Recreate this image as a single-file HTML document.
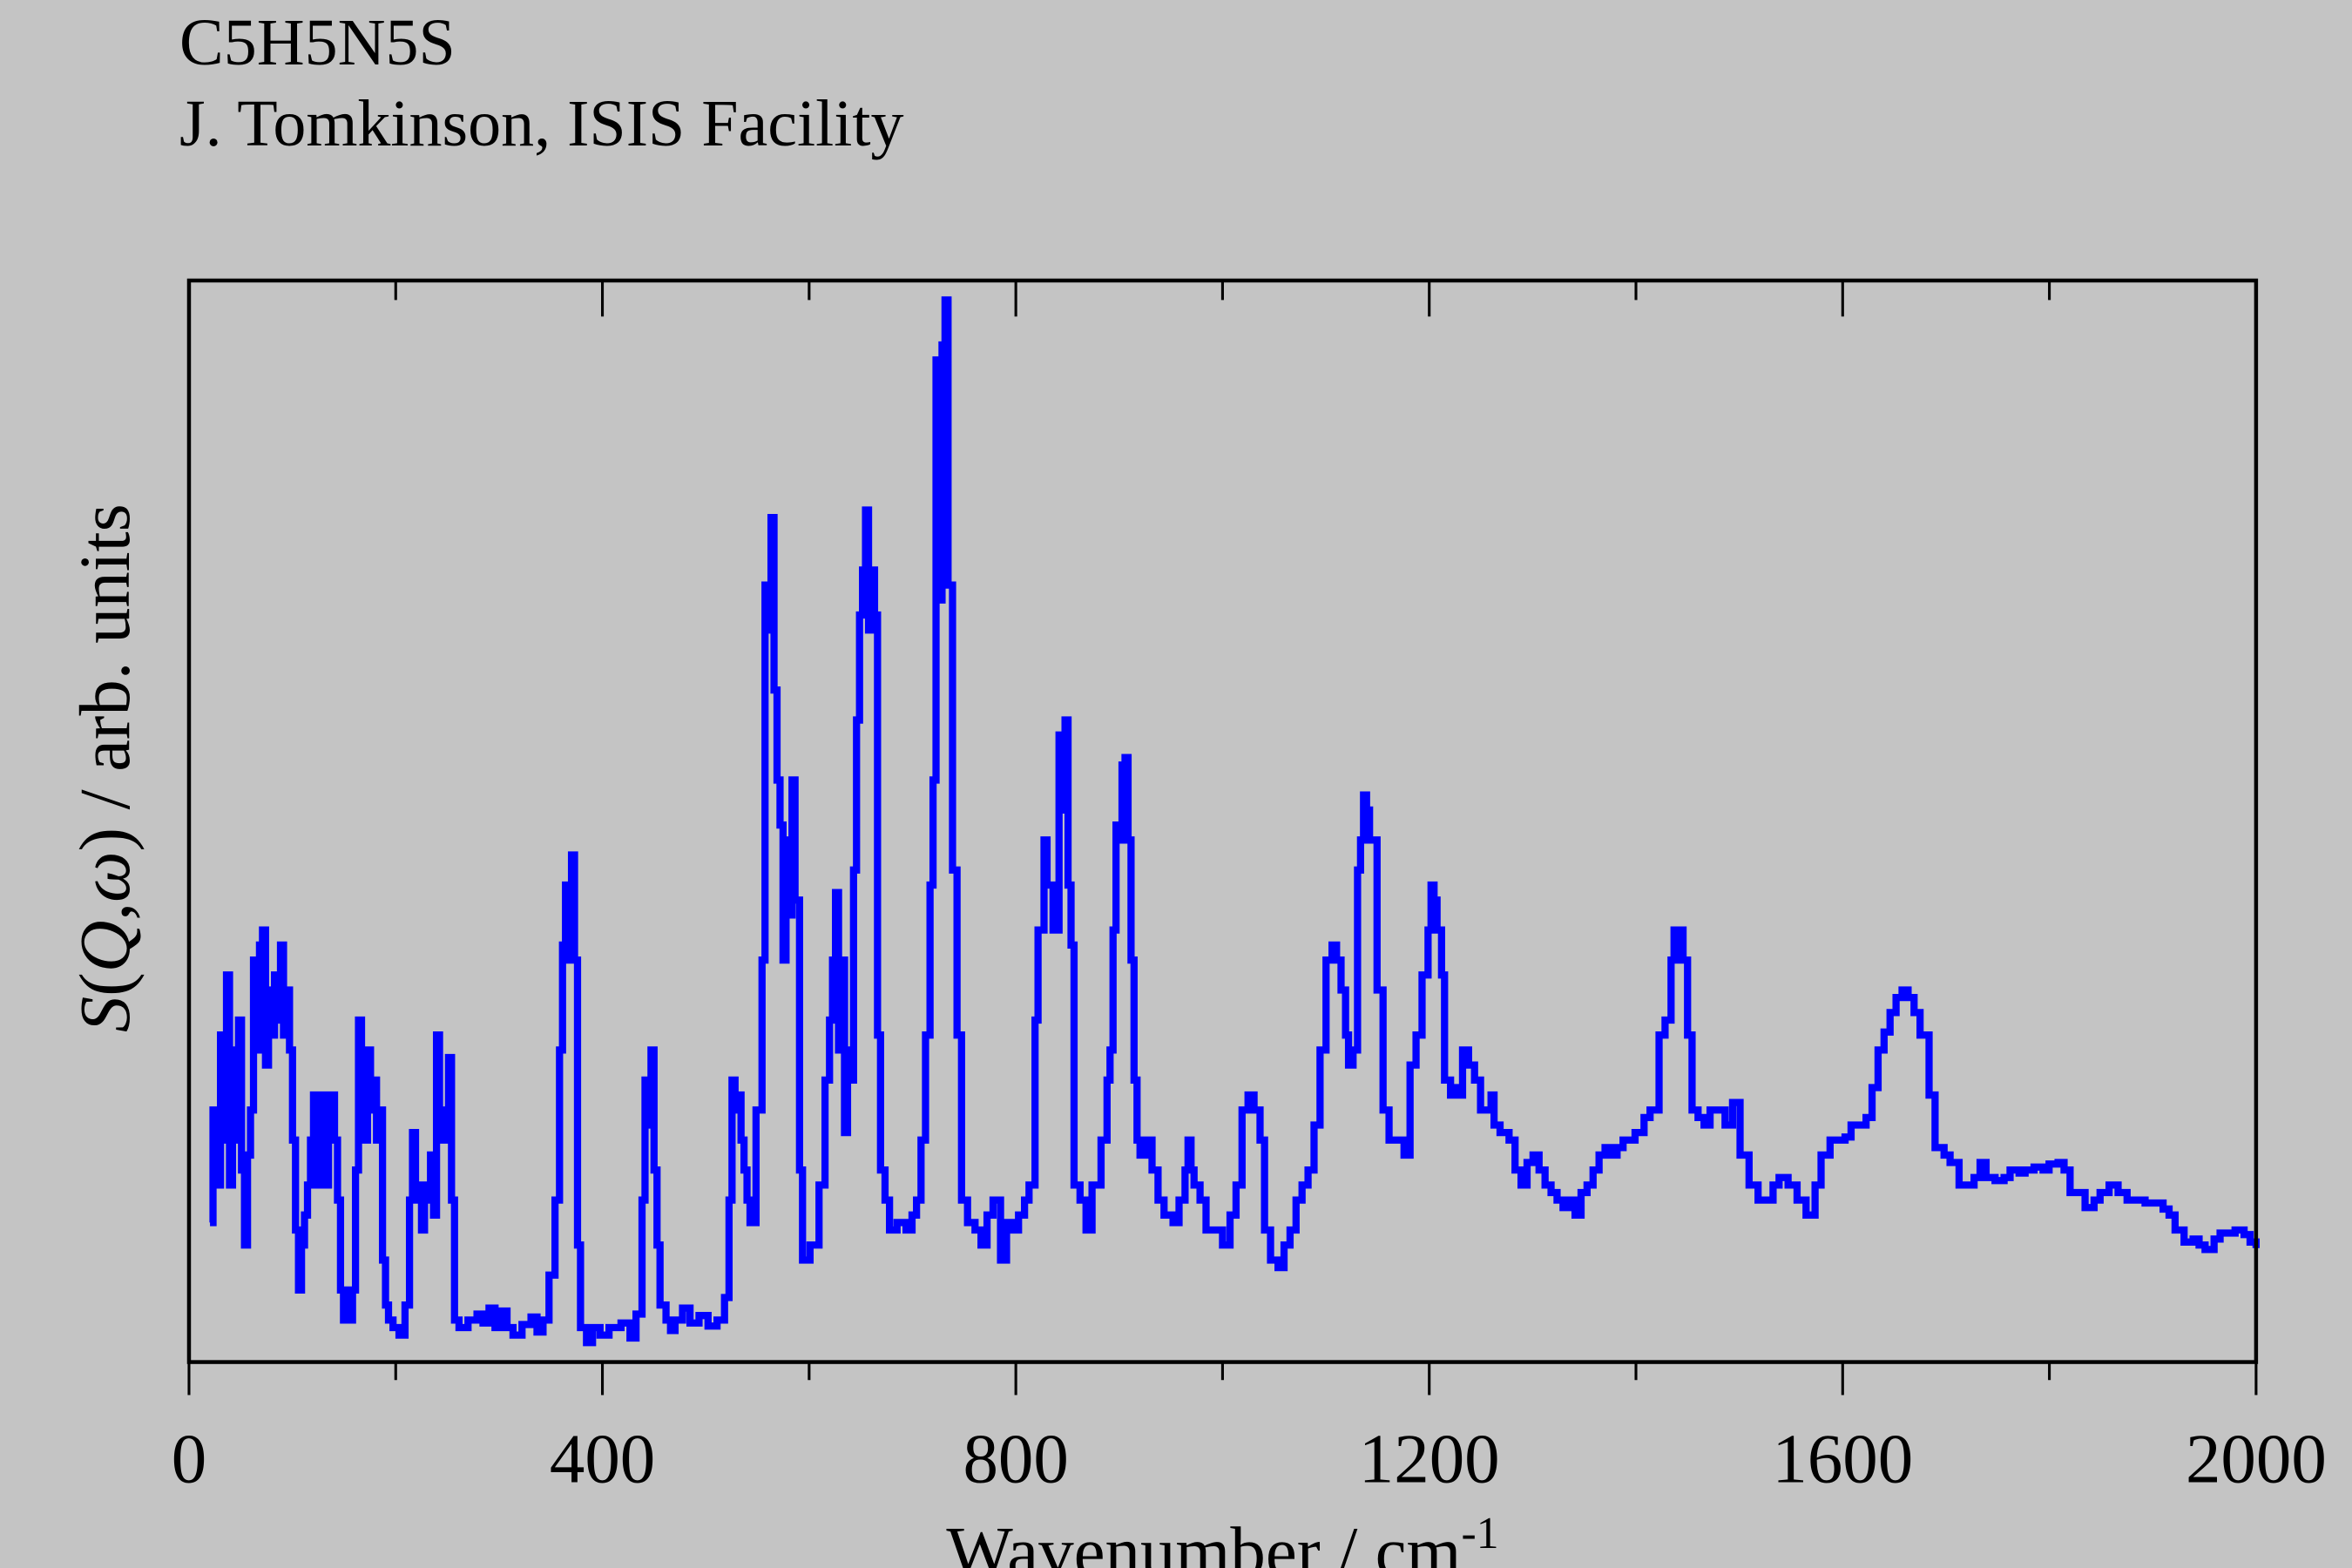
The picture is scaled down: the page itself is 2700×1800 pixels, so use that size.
<!DOCTYPE html>
<html><head><meta charset="utf-8"><style>
html,body{margin:0;padding:0;background:#c4c4c4;}
svg{display:block;}
text{font-family:"Liberation Serif",serif;fill:#000;}
</style></head><body>
<svg id="s" width="2700" height="1800" viewBox="0 0 2700 1800" xmlns="http://www.w3.org/2000/svg">
<rect width="2700" height="1800" fill="#c4c4c4"/>
<text x="206" y="74" font-size="76">C5H5N5S</text>
<text x="206" y="167" font-size="76">J. Tomkinson, ISIS Facility</text>
<g transform="scale(1.722)">
<path id="curve" fill="none" stroke="#0000ff" stroke-width="4.8" stroke-linejoin="miter"/>
<rect x="126" y="187" width="1378" height="721" fill="none" stroke="#000" stroke-width="2.6"/>
<g id="ticks" stroke="#000" stroke-width="1.8"></g>
<g font-size="47" text-anchor="middle" id="lbl"></g>
<text x="815" y="1050" font-size="47" text-anchor="middle">Wavenumber / cm<tspan dy="-18" font-size="30">-1</tspan></text>
<text transform="translate(86,512) rotate(-90)" font-size="48" text-anchor="middle"><tspan font-style="italic">S</tspan>(<tspan font-style="italic">Q</tspan>,<tspan font-style="italic">ω</tspan>) / arb. units</text>
</g>
</svg>
<script>
var d=[140,815,142,740,145,790,147,690,149,760,151,650,153,790,155,700,157,760,159,680,161,780,163,830,165,770,167,740,169,640,171,700,173,630,175,620,177,710,179,660,181,690,183,650,185,680,187,630,189,690,191,660,193,700,195,760,197,820,199,860,201,830,203,810,205,790,207,760,209,730,211,790,213,760,215,730,217,790,219,760,221,730,223,760,225,800,227,860,229,880,231,860,233,880,235,860,237,780,239,680,241,720,243,760,245,700,247,740,249,720,251,760,253,740,255,840,257,870,259,880,262,885,266,890,270,870,273,800,275,755,277,800,279,790,281,820,283,790,285,800,287,770,289,810,291,690,293,760,295,740,297,760,299,705,301,800,303,880,306,885,312,880,318,876,322,882,326,872,330,885,334,874,338,885,342,890,348,883,354,878,358,888,362,880,366,850,370,800,373,700,375,630,377,590,379,640,381,570,383,640,385,830,387,885,391,895,395,885,400,890,406,885,414,882,420,892,424,876,428,800,430,720,432,750,434,700,436,780,438,830,440,870,444,880,447,887,450,880,455,872,460,882,466,877,472,884,478,880,483,865,486,800,488,720,490,740,492,730,494,760,496,780,498,800,500,815,504,740,508,640,510,390,512,420,514,345,516,460,518,520,520,550,522,640,524,560,526,610,528,520,530,600,533,780,535,840,540,830,546,790,550,720,553,680,555,640,557,595,559,700,561,640,563,755,565,700,567,720,569,580,571,480,573,410,575,380,577,340,579,420,581,380,583,410,585,690,587,780,590,800,593,820,598,815,604,820,608,810,611,800,614,760,617,690,620,590,622,520,624,240,626,400,628,230,630,200,632,390,635,580,638,690,641,800,645,815,650,820,654,830,658,810,662,800,667,840,671,815,675,820,679,810,683,800,686,790,690,680,692,620,694,620,696,560,698,590,702,620,706,490,708,540,710,480,712,590,714,630,716,790,720,800,724,820,728,790,734,760,738,720,740,700,742,620,744,550,746,560,748,510,750,505,752,560,754,640,756,720,758,760,760,770,764,760,768,780,772,800,776,810,782,815,786,800,790,780,792,760,794,780,796,790,800,800,804,820,810,820,815,830,820,810,824,790,828,740,832,730,836,740,840,760,843,820,847,840,852,845,856,830,860,820,864,800,868,790,872,780,876,750,880,700,884,640,888,630,891,640,894,660,897,690,899,710,902,700,905,580,907,560,909,530,911,540,913,560,918,660,922,740,926,760,932,760,936,770,940,710,944,690,948,650,952,620,954,590,956,600,958,620,961,650,963,720,967,730,971,725,973,730,975,700,979,710,983,720,987,740,991,740,994,730,996,750,1000,755,1006,760,1010,780,1014,790,1018,775,1022,770,1026,780,1030,790,1034,795,1038,800,1042,805,1046,800,1050,810,1054,795,1058,790,1062,780,1066,770,1070,765,1074,770,1078,765,1082,760,1086,760,1090,755,1096,745,1100,740,1106,690,1110,680,1114,640,1116,620,1118,640,1120,620,1122,640,1125,690,1128,740,1132,745,1136,750,1140,740,1146,740,1150,750,1155,735,1160,770,1166,790,1172,800,1176,800,1182,790,1186,785,1192,790,1198,800,1204,810,1210,790,1214,770,1220,760,1226,760,1230,758,1234,750,1238,750,1244,745,1248,725,1252,700,1256,688,1260,675,1264,665,1268,660,1272,665,1276,675,1280,690,1286,730,1290,765,1296,770,1300,775,1306,790,1312,790,1316,785,1320,775,1324,785,1330,787,1336,785,1340,780,1346,782,1350,780,1356,778,1362,780,1366,776,1372,775,1376,780,1380,795,1386,795,1390,805,1396,800,1400,795,1406,790,1412,795,1418,800,1424,800,1430,802,1436,802,1442,806,1446,810,1450,820,1456,828,1462,826,1466,830,1470,833,1476,826,1480,822,1490,820,1496,823,1500,828,1504,832];
var p="M"+d[0]+" "+d[1];
for(var i=2;i<d.length;i+=2){p+=" H"+d[i]+" V"+d[i+1];}
document.getElementById("curve").setAttribute("d",p);
var t="",l="";
for(var v=0;v<=2000;v+=200){var x=126+v*0.689;var maj=(v%400==0);
t+='<line x1="'+x+'" y1="908" x2="'+x+'" y2="'+(908+(maj?22:12))+'"/>';
t+='<line x1="'+x+'" y1="187" x2="'+x+'" y2="'+(187+(maj?24:13))+'"/>';
if(maj)l+='<text x="'+x+'" y="988">'+v+'</text>';}
document.getElementById("ticks").innerHTML=t;
document.getElementById("lbl").innerHTML=l;
</script>
</body></html>
